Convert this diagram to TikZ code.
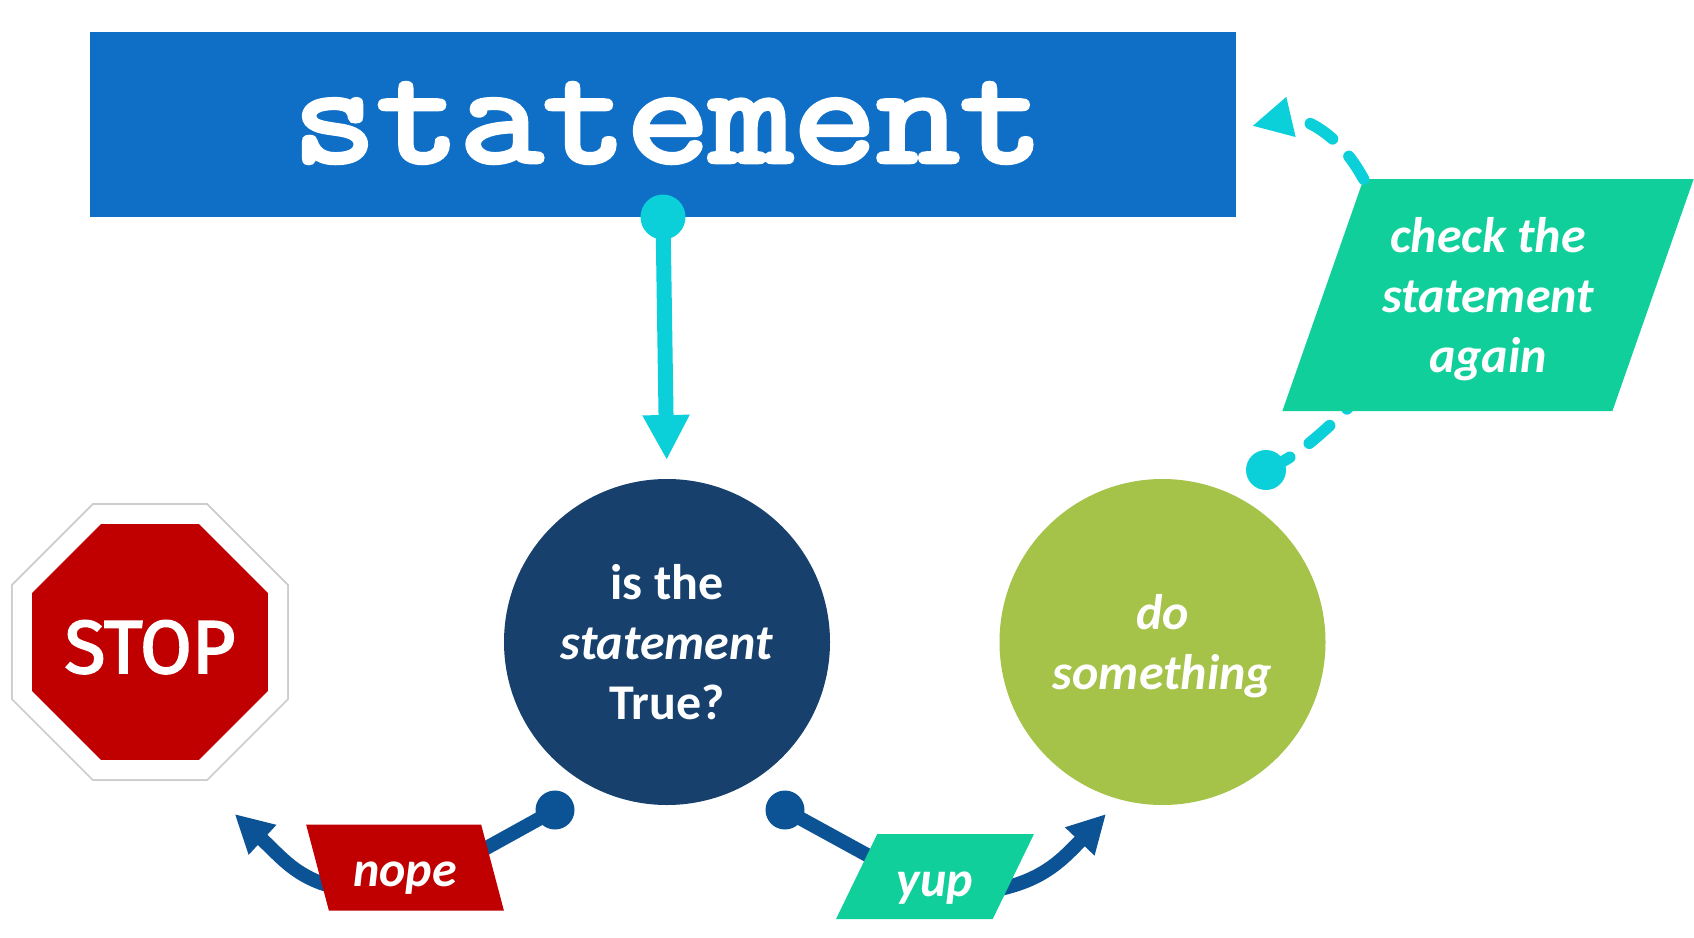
\documentclass[tikz,border=0pt]{standalone}
\usepackage{fontspec}
\usetikzlibrary{shapes.geometric,arrows.meta,shadows}
\setmainfont{Carlito}
\newfontfamily\stmtfont[FakeBold=3.5,FakeStretch=1.14]{Latin Modern Mono}
\newfontfamily\stopfont[FakeBold=2.5]{Fira Sans}
\definecolor{headblue}{HTML}{0F6FC6}
\definecolor{navy}{HTML}{17406D}
\definecolor{leaf}{HTML}{A5C249}
\definecolor{teal}{HTML}{10CF9B}
\definecolor{aqua}{HTML}{0BD0D9}
\definecolor{linkblue}{HTML}{0B5394}
\definecolor{stopred}{HTML}{C00000}
\newcommand{\lowered}[2]{\raisebox{-#1pt}[\height][\depth]{\begin{tabular}{@{}c@{}}#2\end{tabular}}}
\tikzset{
	bubble/.style={circle, minimum size=326, inner sep=0, outer sep=0, text=white, align=center, font=\fontsize{50}{60}\selectfont\bfseries},
	tag/.style={trapezium, trapezium stretches=true, inner sep=0, outer sep=0, text=white, align=center, font=\fontsize{50}{60}\selectfont\bfseries\itshape},
	octagon/.style={regular polygon, regular polygon sides=8, inner sep=0, outer sep=0},
	aquadot/.style={circle, fill=aqua, minimum size=40, inner sep=0},
	bluedot/.style={circle, fill=linkblue, minimum size=39, inner sep=0},
	aquaflow/.style={aqua, line width=11.5, -{Triangle[length=40,width=38]}},
	blueflow/.style={linkblue, line width=14, -{Triangle[length=38,width=38]}},
	aquadash/.style={aquaflow, line cap=round, dash pattern=on 27 off 24},
}
\begin{document}
\begin{tikzpicture}[x=1pt,y=-1pt]
	\useasboundingbox (0,0) rectangle (1694,937);

	%%% Фигуры

	\node[fill=headblue, minimum width=1146, minimum height=185, inner sep=0, outer sep=0, text=white, font=\stmtfont\fontsize{142}{142}\selectfont] (stmt) at (663,124.5) {\hspace*{10pt}\raisebox{1.5pt}[\height][\depth]{statement}};
	\node[bubble, fill=navy] (isit) at (667,642) {\lowered{5}{is the\\\textit{statement}\\True?}};
	\node[bubble, fill=leaf, font=\fontsize{50}{60}\selectfont\bfseries\itshape] (act) at (1162.5,642) {\lowered{5}{do\\something}};

	% Знак
	\node[octagon, minimum size=296.6, fill=white, drop shadow={shadow xshift=0, shadow yshift=0, shadow scale=1.014, opacity=0.4}] (stopouter) at (150,642) {};
	\node[octagon, minimum size=255.4, fill=stopred, text=white, font=\stopfont\fontsize{75}{75}\selectfont] (stopsign) at (150,642) {\raisebox{-31pt}[0pt][0pt]{\makebox[0pt]{STOP}}};

	%%% Точки

	\node[aquadot, minimum size=45] (stmtdot) at (stmt.south) {};
	\node[aquadot] (actdot) at (1266,470) {};
	\node[bluedot] (nopedot) at (555,810) {};
	\node[bluedot] (yupdot) at (785,810) {};
	\coordinate (nopetip) at (234.7,814);
	\coordinate (yuptip) at (1106,814);
	\coordinate (checktip) at (1252,126);

	%%% Стрелки

	\draw[aqua, line width=15, -{Triangle[length=45,width=44]}, shorten >=19] (stmtdot.center) -- (isit.north);

	\draw[blueflow] (nopedot.center) -- (470,857) .. controls (430,880) and (370,900) .. (321,883) .. controls (292,872) and (280,856) .. (nopetip);
	\draw[blueflow] (yupdot.center) -- (900,873) .. controls (940,895) and (980,895) .. (1008,887) .. controls (1045,877) and (1062,860) .. (yuptip);

	%%% Подписи

	\node[tag, fill=stopred, minimum width=198, minimum height=86, trapezium left angle=115.5, trapezium right angle=64.5] (nope) at (405,867.5) {\raisebox{-11pt}[\height][\depth]{nope}};
	\node[tag, fill=teal, minimum width=198, minimum height=85, trapezium left angle=50, trapezium right angle=130] (yup) at (935,876.5) {\raisebox{-12pt}[\height][\depth]{yup}};

	% Пунктир
	\draw[aqua, line width=11.5, line cap=round, dash pattern=on 27 off 24] (actdot.center) .. controls (1295,457) and (1315,440) .. (1345,411) -- (1400,350);
	\node[tag, fill=teal, minimum width=412, minimum height=232, trapezium left angle=69, trapezium right angle=111] (check) at (1488,295) {\lowered{5}{check the\\statement\\again}};
	\draw[aquadash] (check.top left corner) .. controls (1335,126) and (1295,116) .. (checktip);
\end{tikzpicture}
\end{document}
